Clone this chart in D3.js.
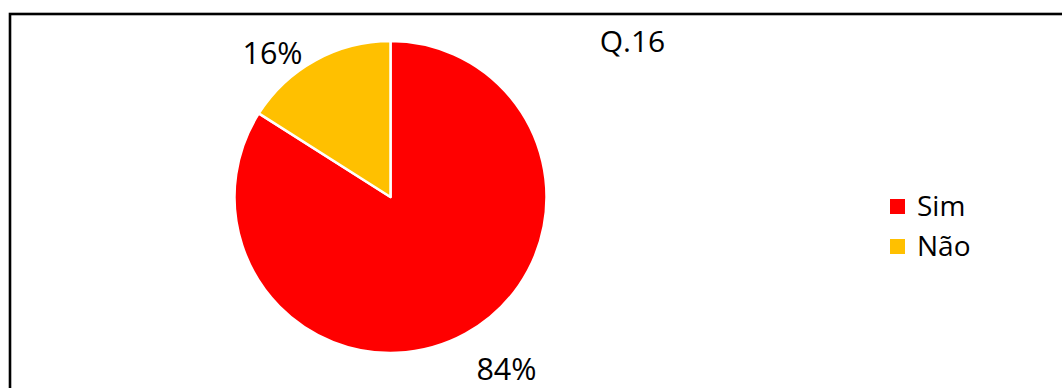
<!DOCTYPE html>
<html>
<head>
<meta charset="utf-8">
<script src="https://cdn.jsdelivr.net/npm/d3@7"></script>
<style>
  html, body { margin: 0; padding: 0; background: #fff; }
  svg { display: block; }
  text { font-family: "Open Sans", "Noto Sans", sans-serif; fill: #000; }
</style>
</head>
<body>
<svg id="chart" width="1062" height="388"></svg>
<script>
// Answers to question 16
const title = "Q.16";
const categories = ["Sim", "Não"];
const values = [84, 16];
const colors = ["#FF0000", "#FFC000"];

const W = 1062, H = 388;
const svg = d3.select("#chart");

// Frame (runs off the right and bottom edges)
svg.append("rect")
  .attr("x", 10).attr("y", 14)
  .attr("width", W + 40).attr("height", H + 40)
  .attr("fill", "#fff")
  .attr("stroke", "#000")
  .attr("stroke-width", 2.6);

const cx = 390.5, cy = 197, R = 156;
const total = d3.sum(values);

const pie = d3.pie().sort(null).value(d => d)(values);
const arc = d3.arc().innerRadius(0).outerRadius(R);

const g = svg.append("g").attr("transform", `translate(${cx},${cy})`);

g.selectAll("path.slice")
  .data(pie)
  .join("path")
  .attr("class", "slice")
  .attr("d", arc)
  .attr("fill", (d, i) => colors[i])
  .attr("stroke", "#fff")
  .attr("stroke-width", 2.5)
  .attr("stroke-linejoin", "round");

// Percentage labels placed just outside each slice
const labelArc = d3.arc().innerRadius(R + 12).outerRadius(R + 12);
const fmt = d => Math.round(d.value / total * 100) + "%";
g.selectAll("text.pct")
  .data(pie)
  .join("text")
  .attr("class", "pct")
  .attr("font-size", 30.5)
  .attr("x", d => labelArc.centroid(d)[0] + (labelArc.centroid(d)[1] > 0 ? 5 : -7))
  .attr("y", d => labelArc.centroid(d)[1] + (labelArc.centroid(d)[1] > 0 ? 36 : 14))
  .attr("text-anchor", d => labelArc.centroid(d)[0] > 0 ? "start" : "end")
  .text(fmt);

// Title
svg.append("text")
  .attr("x", 632.5).attr("y", 52)
  .attr("text-anchor", "middle")
  .attr("font-size", 30)
  .text(title);

// Legend
const legend = svg.append("g").attr("transform", "translate(890,199)");
const rows = legend.selectAll("g")
  .data(categories)
  .join("g")
  .attr("transform", (d, i) => `translate(0,${i * 40})`);
rows.append("rect")
  .attr("width", 15).attr("height", 15)
  .attr("fill", (d, i) => colors[i]);
rows.append("text")
  .attr("x", 27).attr("y", 17)
  .attr("font-size", 28)
  .text(d => d);
</script>
</body>
</html>
